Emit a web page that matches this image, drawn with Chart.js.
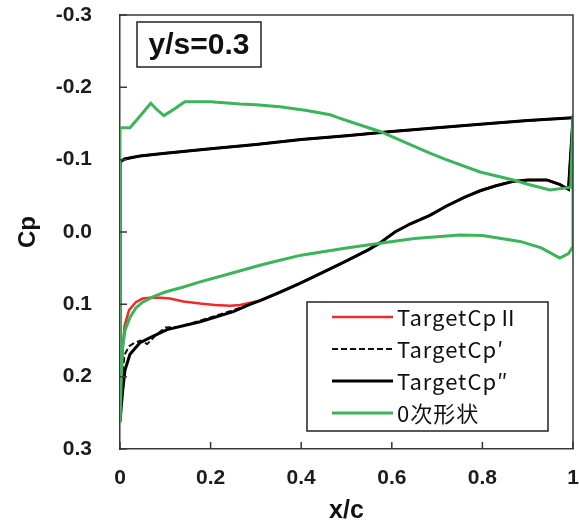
<!DOCTYPE html>
<html>
<head>
<meta charset="utf-8">
<script src="https://cdn.jsdelivr.net/npm/chart.js@4.4.0/dist/chart.umd.min.js"></script>
<style>
  body { margin: 0; background: #fff; }
</style>
</head>
<body>
<canvas id="cpChart" width="579" height="520"></canvas>
<script>
// tick values / labels
const xTicks = [0, 0.2, 0.4, 0.6, 0.8, 1];
const xTickLabels = ["0", "0.2", "0.4", "0.6", "0.8", "1"];
const yTicks = [-0.3, -0.2, -0.1, 0, 0.1, 0.2, 0.3];
const yTickLabels = ["-0.3", "-0.2", "-0.1", "0.0", "0.1", "0.2", "0.3"];

const seriesNames = ["TargetCp\u2161", "TargetCp\u2032", "TargetCp\u2033", "0次形状"];

// upper surface shared by the target distributions (trailing edge -> leading edge)
const targetUpperX  = [1.0, 0.9, 0.795, 0.7, 0.6, 0.5, 0.4, 0.3, 0.2, 0.1, 0.044, 0.01, 0.003, 0];
const targetUpperCp = [-0.158, -0.154, -0.149, -0.144, -0.139, -0.133, -0.128, -0.121, -0.115, -0.109, -0.105, -0.101, -0.098, -0.097];

// TargetCp'' lower surface (leading edge -> trailing edge)
const cp2LowerX  = [0, 0.003, 0.006, 0.011, 0.022, 0.044, 0.07, 0.104, 0.177, 0.25, 0.287, 0.309, 0.35, 0.397, 0.427, 0.45, 0.5, 0.55, 0.574, 0.607, 0.64, 0.684, 0.721, 0.76, 0.795, 0.83, 0.868, 0.9, 0.942, 0.97, 0.99];
const cp2LowerCp = [0.262, 0.24, 0.219, 0.191, 0.169, 0.153, 0.145, 0.135, 0.124, 0.11, 0.1, 0.095, 0.084, 0.071, 0.062, 0.055, 0.04, 0.024, 0.015, 0.0, -0.011, -0.023, -0.036, -0.048, -0.057, -0.064, -0.07, -0.072, -0.072, -0.066, -0.059];

// TargetCp' lower surface near the leading edge (joins TargetCp'' after x=0.3)
const cp1LowerX  = [0, 0.005, 0.01, 0.02, 0.03, 0.045, 0.06, 0.08, 0.1, 0.13, 0.18, 0.25, 0.3];
const cp1LowerCp = [0.262, 0.2, 0.17, 0.158, 0.154, 0.15, 0.155, 0.142, 0.132, 0.131, 0.122, 0.108, 0.097];

// TargetCpII lower surface near the leading edge (joins TargetCp'' after x=0.3)
const cpIILowerX  = [0, 0.003, 0.006, 0.01, 0.02, 0.035, 0.05, 0.066, 0.09, 0.11, 0.14, 0.177, 0.21, 0.243, 0.265, 0.3];
const cpIILowerCp = [0.262, 0.2, 0.16, 0.13, 0.108, 0.097, 0.092, 0.091, 0.091, 0.092, 0.096, 0.099, 0.101, 0.102, 0.101, 0.096];

// initial shape: upper (TE -> LE) and lower (LE -> TE)
const shapeUpperX  = [1.0, 0.995, 0.986, 0.949, 0.9, 0.868, 0.795, 0.72, 0.684, 0.618, 0.574, 0.52, 0.486, 0.464, 0.412, 0.353, 0.3, 0.265, 0.2, 0.143, 0.12, 0.097, 0.08, 0.068, 0.044, 0.022, 0.004, 0];
const shapeUpperCp = [-0.162, -0.062, -0.061, -0.058, -0.066, -0.072, -0.083, -0.1, -0.109, -0.127, -0.139, -0.15, -0.157, -0.162, -0.168, -0.173, -0.176, -0.177, -0.18, -0.18, -0.17, -0.161, -0.17, -0.178, -0.16, -0.144, -0.144, -0.144];
const shapeLowerX  = [0, 0.003, 0.006, 0.011, 0.022, 0.035, 0.05, 0.075, 0.1, 0.14, 0.177, 0.24, 0.309, 0.353, 0.4, 0.5, 0.574, 0.65, 0.75, 0.8, 0.883, 0.93, 0.971, 0.99, 1.0];
const shapeLowerCp = [0.264, 0.2, 0.159, 0.136, 0.118, 0.105, 0.097, 0.089, 0.083, 0.076, 0.069, 0.058, 0.046, 0.039, 0.032, 0.022, 0.0155, 0.009, 0.004, 0.005, 0.013, 0.022, 0.036, 0.03, 0.02];

const pts = (xs, ys) => xs.map((x, i) => ({ x, y: ys[i] }));
const after = (xs, ys, from) => pts(xs, ys).filter(p => p.x > from);

const upper = pts(targetUpperX, targetUpperCp);
const cp2Lower = pts(cp2LowerX, cp2LowerCp);
const loop = (low) => upper.concat(low, [upper[0]]);

const dataII = loop(pts(cpIILowerX, cpIILowerCp).concat(after(cp2LowerX, cp2LowerCp, 0.3)));
const data1 = loop(pts(cp1LowerX, cp1LowerCp).concat(after(cp2LowerX, cp2LowerCp, 0.3)));
const data2 = loop(cp2Lower);
const shapeUpper = pts(shapeUpperX, shapeUpperCp);
const dataShape = shapeUpper.concat(pts(shapeLowerX, shapeLowerCp), [shapeUpper[0]]);

const AXIS = "#383838";

const decorations = {
  id: "decorations",
  afterDraw(chart) {
    const { ctx, chartArea: a, scales } = chart;
    ctx.save();
    // frame top / right
    ctx.strokeStyle = AXIS;
    ctx.lineWidth = 1.5;
    ctx.beginPath();
    ctx.moveTo(a.left, a.top);
    ctx.lineTo(a.right, a.top);
    ctx.lineTo(a.right, a.bottom);
    ctx.stroke();
    // inward ticks
    ctx.beginPath();
    scales.y.ticks.forEach(t => {
      const py = scales.y.getPixelForValue(t.value);
      ctx.moveTo(a.left, py);
      ctx.lineTo(a.left + 7, py);
    });
    scales.x.ticks.forEach(t => {
      const px = scales.x.getPixelForValue(t.value);
      ctx.moveTo(px, a.bottom);
      ctx.lineTo(px, a.bottom - 7);
    });
    ctx.stroke();

    // y/s label box
    ctx.lineWidth = 1.5;
    ctx.strokeStyle = "#222";
    ctx.strokeRect(a.left + 17, a.top + 7, 124, 45);
    ctx.fillStyle = "#111";
    ctx.font = "bold 30px 'Liberation Sans', Arial, sans-serif";
    ctx.textAlign = "center";
    ctx.textBaseline = "middle";
    ctx.fillText("y/s=0.3", a.left + 79, a.top + 31);

    // legend
    const lx = 307, ly = 302, lw = 241, lh = 129;
    ctx.fillStyle = "#fff";
    ctx.fillRect(lx, ly, lw, lh);
    ctx.strokeStyle = "#222";
    ctx.strokeRect(lx, ly, lw, lh);
    ctx.font = "22px 'Noto Sans CJK JP', sans-serif";
    ctx.letterSpacing = "1px";
    ctx.textAlign = "left";
    chart.data.datasets.forEach((ds, i) => {
      const ry = ly + 15 + i * 32;
      ctx.save();
      ctx.strokeStyle = ds.borderColor;
      ctx.lineWidth = ds.borderWidth;
      ctx.setLineDash(ds.borderDash || []);
      ctx.beginPath();
      ctx.moveTo(lx + 25, ry);
      ctx.lineTo(lx + 86, ry);
      ctx.stroke();
      ctx.restore();
      ctx.fillStyle = "#111";
      ctx.fillText(ds.label, lx + 90, ry + 1);
    });
    ctx.restore();
  }
};

const tickFont = { family: "'Liberation Sans', Arial, sans-serif", size: 21, weight: "bold" };

new Chart(document.getElementById("cpChart"), {
  type: "scatter",
  data: {
    datasets: [
      { label: seriesNames[0], data: dataII, borderColor: "#ee2b2b", borderWidth: 2.5, order: 3 },
      { label: seriesNames[1], data: data1, borderColor: "#111", borderWidth: 2, borderDash: [6, 3], order: 2 },
      { label: seriesNames[2], data: data2, borderColor: "#000", borderWidth: 3, order: 1 },
      { label: seriesNames[3], data: dataShape, borderColor: "#3bb45a", borderWidth: 3, order: 0 }
    ].map(ds => Object.assign(ds, { showLine: true, pointRadius: 0, tension: 0, fill: false }))
  },
  options: {
    responsive: false,
    animation: false,
    layout: { padding: { top: 15, right: 6, left: 0, bottom: 0 } },
    plugins: { legend: { display: false }, tooltip: { enabled: false } },
    scales: {
      x: {
        type: "linear", min: 0, max: 1,
        afterBuildTicks: s => { s.ticks = xTicks.map(v => ({ value: v })); },
        afterFit: s => { s.height = 71; s.paddingLeft = 0; s.paddingRight = 0; },
        grid: { display: false, drawTicks: false },
        border: { display: true, color: AXIS, width: 1.5 },
        ticks: {
          padding: 17, color: "#1c1c1c", font: tickFont, maxRotation: 0,
          callback: v => xTickLabels[xTicks.indexOf(v)]
        },
        title: {
          display: true, text: "x/c", color: "#111",
          font: { family: "'Liberation Sans', Arial, sans-serif", size: 25, weight: "bold", lineHeight: 0.75 },
          padding: 0
        }
      },
      y: {
        type: "linear", min: -0.3, max: 0.3, reverse: true,
        afterBuildTicks: s => { s.ticks = yTicks.map(v => ({ value: v })); },
        afterFit: s => { s.width = 120; s.paddingTop = 0; s.paddingBottom = 0; },
        grid: { display: false, drawTicks: false },
        border: { display: true, color: AXIS, width: 1.5 },
        ticks: {
          padding: 28, color: "#1c1c1c", font: tickFont,
          callback: v => yTickLabels[yTicks.indexOf(v)]
        },
        title: {
          display: true, text: "Cp", color: "#111",
          font: { family: "'Liberation Sans', Arial, sans-serif", size: 24, weight: "bold", lineHeight: 1 },
          padding: { top: 16, bottom: 0 }
        }
      }
    }
  },
  plugins: [decorations]
});
</script>
</body>
</html>
